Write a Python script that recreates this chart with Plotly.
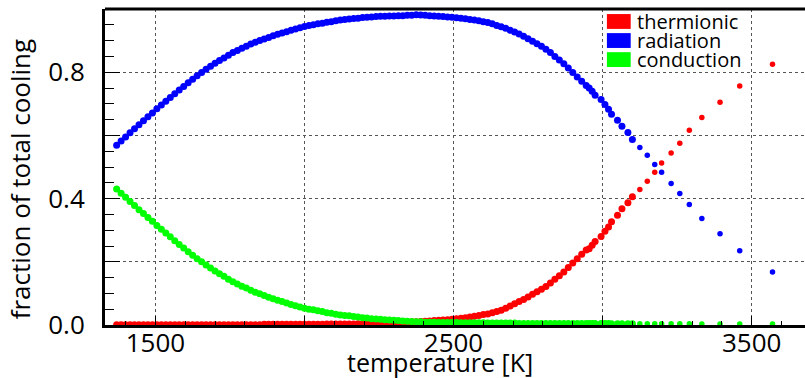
import plotly.graph_objects as go

# Share of the total cooling carried by each channel versus particle temperature
temperature = [
    1370, 1385, 1400, 1415, 1430, 1445, 1460, 1475, 1490, 1505,
    1520, 1535, 1550, 1565, 1580, 1595, 1610, 1625, 1640, 1655,
    1670, 1685, 1700, 1715, 1730, 1745, 1760, 1775, 1790, 1805,
    1820, 1835, 1850, 1865, 1880, 1895, 1910, 1925, 1940, 1955,
    1970, 1985, 2000, 2015, 2030, 2045, 2060, 2075, 2090, 2105,
    2120, 2135, 2150, 2165, 2180, 2195, 2210, 2225, 2240, 2255,
    2270, 2285, 2300, 2315, 2330, 2345, 2360, 2375, 2390, 2405,
    2420, 2435, 2450, 2465, 2480, 2495, 2510, 2525, 2540, 2555,
    2570, 2585, 2600, 2615, 2630, 2645, 2660, 2675, 2690, 2705,
    2720, 2735, 2750, 2765, 2780, 2795, 2810, 2825, 2840, 2855,
    2870, 2885, 2900, 2915, 2930, 2945, 2955, 2965, 2975, 2995,
    3008, 3020, 3030, 3050, 3065, 3085, 3100, 3125, 3150, 3175,
    3198, 3230, 3259, 3291, 3333, 3394, 3460, 3570,
]

thermionic = [
    .001, .001, .001, .001, .001, .001, .001, .001, .001, .001,
    .001, .001, .001, .001, .001, .001, .001, .001, .001, .001,
    .001, .001, .001, .001, .001, .001, .001, .001, .001, .001,
    .001, .001, .001, .002, .002, .002, .002, .002, .002, .002,
    .002, .002, .002, .002, .002, .002, .002, .003, .003, .003,
    .003, .003, .003, .003, .004, .004, .004, .005, .005, .005,
    .006, .006, .007, .007, .008, .009, .010, .010, .011, .012,
    .013, .014, .015, .016, .017, .018, .020, .021, .023, .025,
    .028, .030, .033, .035, .039, .043, .047, .053, .060, .067,
    .074, .081, .089, .097, .105, .113, .122, .133, .145, .156,
    .168, .182, .196, .210, .224, .237, .241, .252, .264, .280,
    .297, .310, .327, .347, .368, .387, .406, .429, .455, .483,
    .513, .544, .575, .616, .657, .705, .756, .825,
]

radiation = [
    .569, .582, .595, .608, .621, .634, .646, .659, .671, .684,
    .696, .708, .720, .732, .744, .755, .767, .778, .789, .799,
    .809, .819, .828, .837, .845, .854, .862, .869, .876, .882,
    .889, .895, .900, .905, .910, .915, .920, .924, .928, .933,
    .937, .941, .945, .948, .950, .953, .955, .958, .960, .963,
    .965, .967, .968, .970, .971, .973, .974, .975, .976, .977,
    .977, .978, .978, .979, .979, .980, .980, .982, .981, .980,
    .979, .978, .977, .976, .975, .974, .972, .971, .969, .967,
    .965, .963, .960, .957, .953, .948, .944, .939, .933, .927,
    .921, .914, .906, .898, .890, .882, .873, .862, .850, .839,
    .827, .813, .799, .785, .771, .758, .750, .740, .727, .714,
    .698, .683, .667, .648, .629, .609, .587, .562, .537, .508,
    .483, .448, .416, .381, .337, .289, .235, .168,
]

conduction = [
    .430, .417, .404, .391, .378, .365, .353, .340, .328, .315,
    .303, .291, .279, .267, .255, .244, .232, .221, .210, .200,
    .190, .180, .171, .162, .154, .145, .137, .130, .123, .117,
    .110, .104, .099, .093, .088, .083, .078, .074, .070, .065,
    .061, .057, .053, .050, .048, .045, .043, .039, .037, .034,
    .032, .030, .029, .027, .025, .023, .022, .020, .019, .018,
    .017, .016, .015, .014, .013, .012, .011, .010, .010, .009,
    .009, .009, .008, .008, .008, .008, .008, .007, .007, .007,
    .007, .007, .007, .006, .006, .006, .006, .006, .006, .006,
    .005, .005, .005, .005, .005, .005, .005, .005, .005, .005,
    .005, .005, .005, .005, .005, .005, .005, .005, .005, .005,
    .005, .005, .004, .004, .004, .004, .004, .004, .004, .004,
    .004, .004, .004, .004, .003, .003, .003, .003,
]

series_names = ["thermionic", "radiation", "conduction"]
series_colors = ["#ff0000", "#0000ff", "#00ff00"]
series_values = [thermionic, radiation, conduction]

x_ticks = [1500, 2000, 2500, 3000, 3500]
x_labels = ["1500", "", "2500", "", "3500"]
y_ticks = [0.0, 0.2, 0.4, 0.6, 0.8]
y_labels = ["0.0", "", "0.4", "", "0.8"]

FONT = "Open Sans"

# where the samples crowd together the dots merge into a band
marker_sizes = []
for i, t in enumerate(temperature):
    gap = min(abs(t - temperature[j]) for j in (i - 1, i + 1) if 0 <= j < len(temperature))
    marker_sizes.append(7 if gap <= 15 else 5.5)

fig = go.Figure()
for name, vals, color in zip(series_names, series_values, series_colors):
    fig.add_trace(go.Scatter(
        x=temperature, y=vals, mode="markers", name=name,
        marker=dict(color=color, size=marker_sizes, opacity=1, line=dict(width=0)),
        showlegend=False,
    ))

axis_common = dict(
    showline=True, linewidth=3, linecolor="black", mirror=False,
    ticks="inside", tickcolor="black", tickwidth=1,
    showgrid=True, gridcolor="#555555", griddash="dot", gridwidth=1,
    zeroline=False, tickmode="array",
    tickfont=dict(family=FONT, size=26, color="black"),
)

fig.update_layout(
    width=805, height=378,
    margin=dict(l=105, r=0, t=9, b=53),
    paper_bgcolor="white", plot_bgcolor="white",
    font=dict(family=FONT, color="black"),
    xaxis=dict(
        range=[1331, 3679], tickvals=x_ticks, ticktext=x_labels, ticklen=9,
        ticklabelstandoff=-7,
        minor=dict(tick0=0, dtick=100, ticks="inside", ticklen=4,
                   tickcolor="black", showgrid=False),
        **axis_common,
    ),
    yaxis=dict(
        range=[0, 1.0], tickvals=y_ticks, ticktext=y_labels, ticklen=15,
        ticklabelstandoff=12,
        minor=dict(tick0=0, dtick=0.05, ticks="inside", ticklen=9,
                   tickcolor="black", showgrid=False),
        **axis_common,
    ),
    showlegend=False,
)

# frame line along the top of the plotting area
fig.add_shape(type="line", xref="paper", yref="paper", x0=0, x1=1, y0=1, y1=1,
              line=dict(color="black", width=3))

# axis titles
fig.add_annotation(text="temperature [K]", xref="paper", yref="paper",
                   x=0.479, y=-0.117, xanchor="center", yanchor="middle",
                   showarrow=False, font=dict(family=FONT, size=25, color="black"))
fig.add_annotation(text="fraction of total cooling", xref="paper", yref="paper",
                   x=-0.121, y=0.462, xanchor="center", yanchor="middle",
                   textangle=-90, showarrow=False,
                   font=dict(family=FONT, size=26, color="black"))

# key with filled colour boxes in the upper right corner
for i, (name, color) in enumerate(zip(series_names, series_colors)):
    top = 0.984 - i * 0.0603
    fig.add_shape(type="rect", xref="paper", yref="paper",
                  x0=0.717, x1=0.751, y0=top - 0.047, y1=top,
                  fillcolor=color, line=dict(width=0))
    fig.add_annotation(text=name, xref="paper", yref="paper",
                       x=0.757, y=top - 0.0235, xanchor="left", yanchor="middle",
                       showarrow=False, font=dict(family=FONT, size=20, color="black"))

fig.write_html("out.html")
